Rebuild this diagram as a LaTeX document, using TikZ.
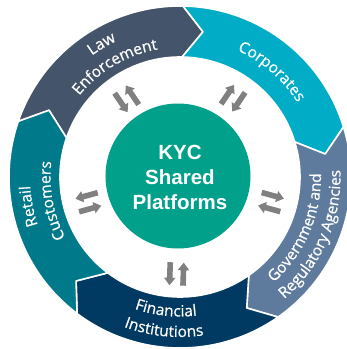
\documentclass[tikz,border=0pt]{standalone}
\usepackage{fontspec}
\setmainfont{Liberation Sans}
\newfontfamily\ringfont[FakeBold=0.6]{Open Sans}
\usetikzlibrary{decorations.text}
\definecolor{lawc}{RGB}{68,84,106}
\definecolor{corpc}{RGB}{0,172,198}
\definecolor{govc}{RGB}{94,122,157}
\definecolor{fic}{RGB}{0,58,99}
\definecolor{retc}{RGB}{0,122,138}
\definecolor{hubc}{RGB}{0,160,138}
\definecolor{arrowgray}{RGB}{128,128,128}
\newcommand\ringtext{\ringfont\fontsize{15.5}{18}\selectfont}
\newcommand\rin{120}
\newcommand\rout{171}
\newcommand\rmid{147}
\newcommand\ringseg[3]{%
  \filldraw[fill=#1, draw=white, line width=1.6pt, line join=round]
    (#2:\rout) arc[start angle=#2, end angle=#3, radius=\rout]
    -- ({#3-8}:\rmid) -- (#3:\rin)
    arc[start angle=#3, end angle=#2, radius=\rin]
    -- ({#2-8}:\rmid) -- cycle;}
\newcommand\blockarrow{%
  \fill[arrowgray] (-11.5,-2.8) -- (4,-2.8) -- (4,-5.8) -- (11.5,0)
     -- (4,5.8) -- (4,2.8) -- (-11.5,2.8) -- cycle;}
% #1 angle, #2 radius, #3 0 = arrow on the ccw side points outward, 180 = inward
\newcommand\arrowpair[3]{%
  \begin{scope}[shift={(#1:#2)}, rotate=#1]
    \begin{scope}[shift={(0,6.75)}, rotate=#3]\blockarrow\end{scope}
    \begin{scope}[shift={(0,-6.75)}, rotate={#3+180}]\blockarrow\end{scope}
  \end{scope}}
% #1 text, #2 radius, #3 centre angle
\newcommand\cwtext[3]{%
  \path[decorate, decoration={text along path, text align=center, text color=white,
    text={|\ringtext|#1}}] ({#3+45}:#2) arc[start angle={#3+45}, end angle={#3-45}, radius=#2];}
\newcommand\ccwtext[3]{%
  \path[decorate, decoration={text along path, text align=center, text color=white,
    text={|\ringtext|#1}}] ({#3-45}:#2) arc[start angle={#3-45}, end angle={#3+45}, radius=#2];}
\tikzset{
  hub/.style={circle, fill=hubc, minimum size=145pt, inner sep=0pt},
  hubtext/.style={text=white, align=center, font=\fontsize{20.5}{25}\selectfont\bfseries}
}
\begin{document}
\begin{tikzpicture}[x=1pt,y=1pt]
\useasboundingbox (-180,-172) rectangle (167,177);
% ring segments
\ringseg{lawc}{161}{89}
\ringseg{corpc}{89}{17}
\ringseg{govc}{17}{-55}
\ringseg{fic}{-55}{-127}
\ringseg{retc}{233}{161}
% ring labels
\cwtext{Law}{150}{120.5}
\cwtext{Enforcement}{129.5}{120.5}
\cwtext{Corporates}{139}{49}
\ccwtext{Government and}{141}{-23.5}
\ccwtext{Regulatory Agencies}{160.5}{-23.5}
\ccwtext{Financial}{139.5}{264}
\ccwtext{Institutions}{160}{264}
\cwtext{Retail}{150}{191}
\cwtext{Customers}{129.5}{190.5}
% hub
\node[hub] (hubcircle) at (-2,1) {};
\node[hubtext] (kyc) at (0,0) {KYC\\Shared\\Platforms};
% double arrows
\arrowpair{268}{97}{180}
\arrowpair{124.3}{94.6}{180}
\arrowpair{56}{95}{0}
\arrowpair{-15.4}{94.4}{0}
\arrowpair{195.4}{95}{180}
\end{tikzpicture}
\end{document}
